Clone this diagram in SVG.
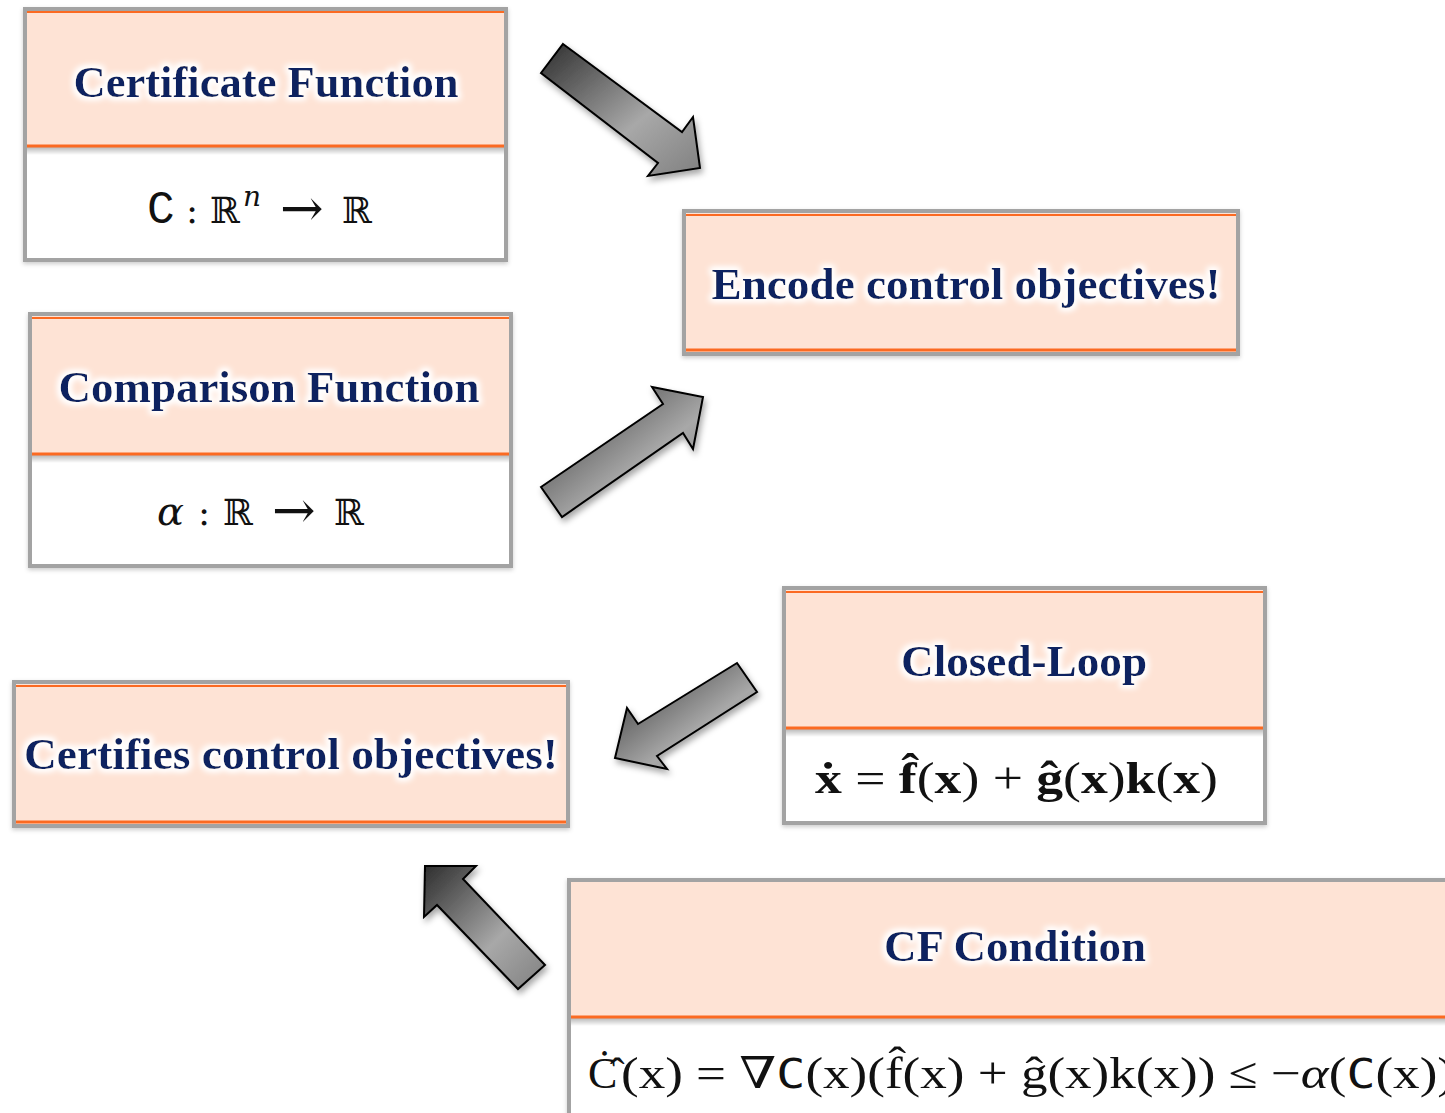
<svg xmlns="http://www.w3.org/2000/svg" width="1445" height="1113" viewBox="0 0 1445 1113">
<defs>
<style>
.frame{fill:#ffffff;stroke:#a3a3a3;stroke-width:4}
.peach{fill:#fee3d5}
.orange{stroke:#fb6a22;stroke-width:3}
.otop{stroke:#fb6a22;stroke-width:2}
.title{font-family:"Liberation Serif","DejaVu Serif",serif;font-weight:bold;font-size:44px;fill:#0b2361;text-anchor:middle;filter:url(#glow)}
.math{font-family:"DejaVu Serif","Liberation Serif",serif;font-size:36px;fill:#111}
.tt{font-family:"Liberation Mono","DejaVu Sans Mono",monospace;font-weight:normal}
.tt2{font-family:"DejaVu Sans Mono","Liberation Mono",monospace;font-weight:normal}
.eq{font-family:"Liberation Serif","DejaVu Serif",serif;font-size:44px;fill:#111}
.arrow{fill:url(#ag);stroke:#000;stroke-width:2;stroke-linejoin:miter;filter:url(#ash)}
</style>
<linearGradient id="ag" x1="0" y1="0" x2="1" y2="1">
<stop offset="0" stop-color="#2e2e2e"/>
<stop offset="0.6" stop-color="#a8a8a8"/>
<stop offset="1" stop-color="#808080"/>
</linearGradient>
<linearGradient id="sep" x1="0" y1="0" x2="0" y2="1">
<stop offset="0" stop-color="#000" stop-opacity="0.28"/>
<stop offset="1" stop-color="#000" stop-opacity="0"/>
</linearGradient>
<filter id="glow" x="-10%" y="-40%" width="120%" height="180%">
<feMorphology in="SourceAlpha" operator="dilate" radius="2" result="d"/>
<feGaussianBlur in="d" stdDeviation="3" result="b"/>
<feFlood flood-color="#ffffff"/>
<feComposite in2="b" operator="in" result="w"/>
<feMerge><feMergeNode in="w"/><feMergeNode in="w"/><feMergeNode in="SourceGraphic"/></feMerge>
</filter>
<filter id="ash" x="-20%" y="-20%" width="150%" height="150%">
<feDropShadow dx="2" dy="4" stdDeviation="3" flood-color="#000" flood-opacity="0.35"/>
</filter>
<filter id="bsh" x="-5%" y="-5%" width="110%" height="115%">
<feDropShadow dx="0" dy="2" stdDeviation="2" flood-color="#000" flood-opacity="0.2"/>
</filter>
</defs>
<rect width="1445" height="1113" fill="#ffffff"/>

<g id="node-certificate-function">
<rect class="frame" x="25" y="9" width="481" height="251" filter="url(#bsh)"/>
<rect class="peach" x="27" y="11" width="477" height="135"/>
<line class="otop" x1="27" y1="12" x2="504" y2="12"/>
<rect x="27" y="147" width="477" height="8" fill="url(#sep)"/>
<line class="orange" x1="27" y1="146" x2="504" y2="146"/>
<text class="title" x="266" y="97" textLength="385" lengthAdjust="spacingAndGlyphs">Certificate Function</text>
<text class="math" y="223"><tspan class="tt" x="147" font-size="46">C</tspan><tspan x="186">:</tspan><tspan x="210">ℝ</tspan><tspan x="243" y="206" font-style="italic" font-size="28">n</tspan><tspan x="280" y="226" font-size="52">→</tspan><tspan x="342" y="223">ℝ</tspan></text>
</g>

<g id="node-comparison-function">
<rect class="frame" x="30" y="314" width="481" height="252" filter="url(#bsh)"/>
<rect class="peach" x="32" y="316" width="477" height="138"/>
<line class="otop" x1="32" y1="318" x2="509" y2="318"/>
<rect x="32" y="455" width="477" height="8" fill="url(#sep)"/>
<line class="orange" x1="32" y1="454" x2="509" y2="454"/>
<text class="title" x="269" y="402" textLength="421" lengthAdjust="spacingAndGlyphs">Comparison Function</text>
<text class="math" y="525"><tspan x="157" font-style="italic" font-size="40">α</tspan><tspan x="198">:</tspan><tspan x="223">ℝ</tspan><tspan x="272" y="528" font-size="52">→</tspan><tspan x="334" y="525">ℝ</tspan></text>
</g>

<g id="node-encode">
<rect class="frame" x="684" y="211" width="554" height="143" filter="url(#bsh)"/>
<rect class="peach" x="686" y="213" width="550" height="139"/>
<line class="otop" x1="686" y1="215" x2="1236" y2="215"/>
<line class="orange" x1="686" y1="350" x2="1236" y2="350"/>
<text class="title" x="966" y="299" textLength="509" lengthAdjust="spacingAndGlyphs">Encode control objectives!</text>
</g>

<g id="node-closed-loop">
<rect class="frame" x="784" y="588" width="481" height="235" filter="url(#bsh)"/>
<rect class="peach" x="786" y="590" width="477" height="138"/>
<line class="otop" x1="786" y1="592" x2="1263" y2="592"/>
<rect x="786" y="729" width="477" height="8" fill="url(#sep)"/>
<line class="orange" x1="786" y1="728" x2="1263" y2="728"/>
<text class="title" x="1024" y="676" textLength="246" lengthAdjust="spacingAndGlyphs">Closed-Loop</text>
<text class="eq" x="815" y="793" textLength="403" lengthAdjust="spacingAndGlyphs"><tspan font-weight="bold">ẋ</tspan> = <tspan font-weight="bold">f̂</tspan>(<tspan font-weight="bold">x</tspan>) + <tspan font-weight="bold">ĝ</tspan>(<tspan font-weight="bold">x</tspan>)<tspan font-weight="bold">k</tspan>(<tspan font-weight="bold">x</tspan>)</text>
</g>

<g id="node-certifies">
<rect class="frame" x="14" y="682" width="554" height="144" filter="url(#bsh)"/>
<rect class="peach" x="16" y="684" width="550" height="140"/>
<line class="otop" x1="16" y1="686" x2="566" y2="686"/>
<line class="orange" x1="16" y1="822" x2="566" y2="822"/>
<text class="title" x="291" y="769" textLength="534" lengthAdjust="spacingAndGlyphs">Certifies control objectives!</text>
</g>

<g id="node-cf-condition">
<rect class="frame" x="569" y="880" width="900" height="260" filter="url(#bsh)"/>
<rect class="peach" x="571" y="882" width="896" height="135"/>
<rect x="571" y="1018" width="896" height="8" fill="url(#sep)"/>
<line class="orange" x1="571" y1="1017" x2="1467" y2="1017"/>
<text class="title" x="1015" y="961" textLength="262" lengthAdjust="spacingAndGlyphs">CF Condition</text>
<text class="eq" x="588" y="1088" font-family="DejaVu Serif, serif" font-size="40">Ċ̂</text>
<text class="eq" x="621" y="1088" textLength="834" lengthAdjust="spacingAndGlyphs">(x) = ∇<tspan class="tt2" font-size="40">C</tspan>(x)(f̂(x) + ĝ(x)k(x)) ≤ −<tspan font-style="italic">α</tspan>(<tspan class="tt2" font-size="40">C</tspan>(x))</text>
</g>

<g id="connectors">
<polygon class="arrow" points="563,44 682,132 693,117 700,168 648,176 658,163 541,73"/>
<polygon class="arrow" points="541,487 663,404 652,387 703,397 693,449 683,433 562,517"/>
<polygon class="arrow" points="737,663 757,692 657,756 667,769 615,758 627,708 638,724"/>
<polygon class="arrow" points="425,866 476,866 463,879 545,965 518,989 437,905 424,917"/>
</g>
</svg>
